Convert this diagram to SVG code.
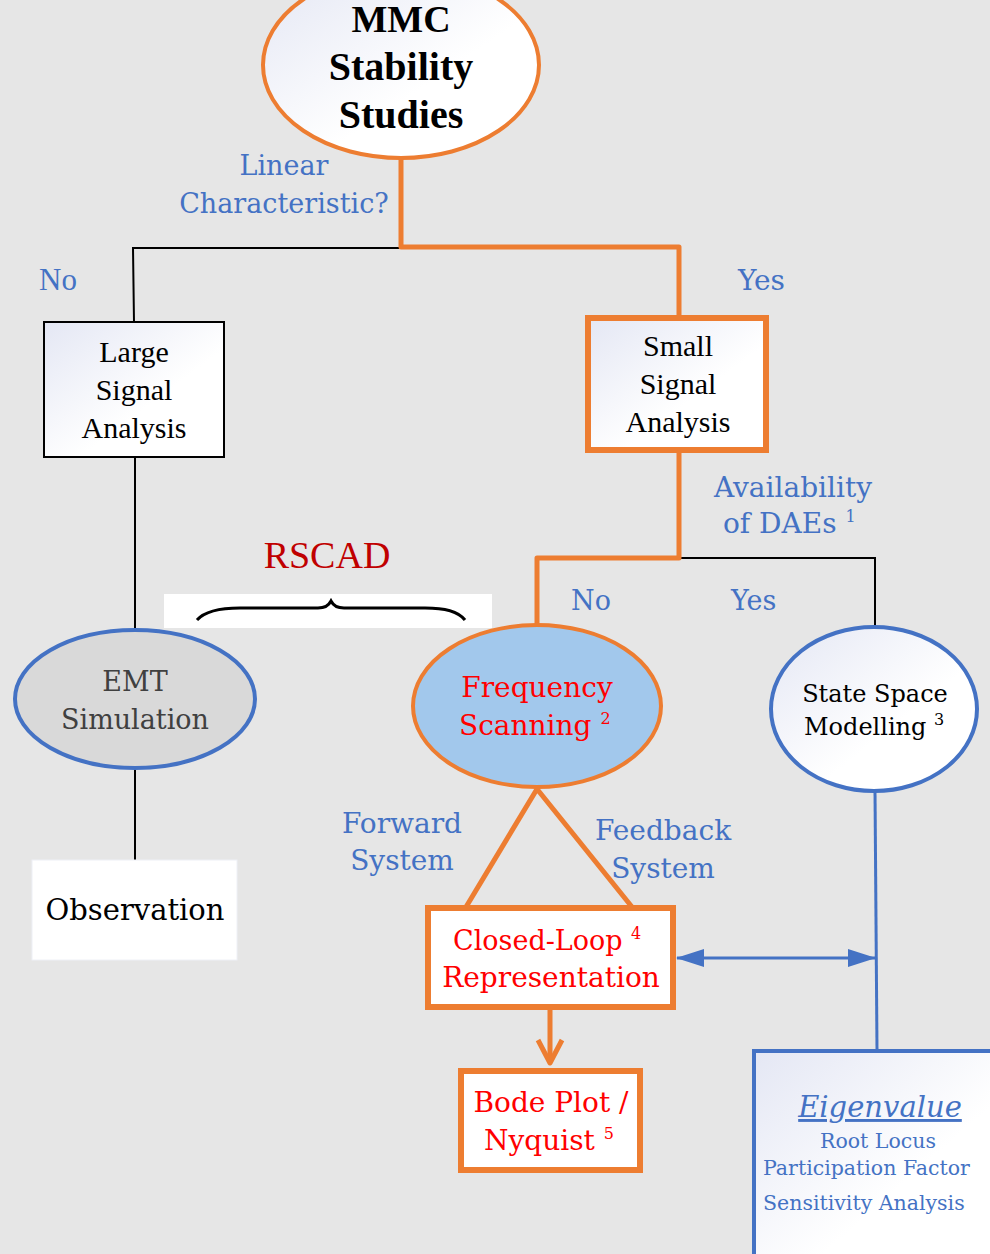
<svg xmlns="http://www.w3.org/2000/svg" width="990" height="1254" viewBox="0 0 990 1254">
<defs>
<linearGradient id="wg" x1="0" y1="0" x2="1" y2="1">
<stop offset="0" stop-color="#e4e7f4"/>
<stop offset="0.6" stop-color="#ffffff"/>
</linearGradient>
<marker id="ah" viewBox="0 0 28 18" refX="27" refY="9" markerWidth="28" markerHeight="18" orient="auto-start-reverse" markerUnits="userSpaceOnUse">
<path d="M0,0 L28,9 L0,18 z" fill="#4472c4"/>
</marker>
<style>
.tm{font-family:"Liberation Serif","Times New Roman",serif;}
.cs{font-family:"DejaVu Serif","Liberation Serif",serif;}
.bl{fill:#4472c4;}
.rd{fill:#ff0000;}
.or{fill:none;stroke:#ed7d31;stroke-width:5;stroke-linejoin:round;}
.bk{fill:none;stroke:#000;stroke-width:2;}
.bu{fill:none;stroke:#4472c4;stroke-width:3;}
.sup{font-size:16px;}
</style>
</defs>
<rect x="0" y="0" width="990" height="1254" fill="#e6e6e6"/>

<g id="connectors">
<polyline class="bk" points="401,248 133,248 134,322"/>
<polyline class="or" points="401,157 401,247 679,247 679,318"/>
<line class="bk" x1="135" y1="457" x2="135" y2="630"/>
<line class="bk" x1="135" y1="768" x2="135" y2="860"/>
<polyline class="bk" points="679,558 875,558 875,628"/>
<polyline class="or" points="679,452 679,558 537,558 537,626"/>
<polyline class="or" points="466,907 537,789 632,907"/>
<line class="or" x1="550" y1="1008" x2="550" y2="1062"/>
<polyline class="or" points="538,1040 550,1063 562,1040"/>
<line class="bu" x1="875" y1="791" x2="877" y2="1050"/>
<line class="bu" x1="677" y1="958" x2="875" y2="958" marker-start="url(#ah)" marker-end="url(#ah)"/>
</g>

<g id="labels">
<text class="cs bl" font-size="27" text-anchor="middle" x="284" y="175">Linear</text>
<text class="cs bl" font-size="27" text-anchor="middle" x="284" y="213">Characteristic?</text>
<text class="tm bl" font-size="31" x="39" y="290">No</text>
<text class="cs bl" font-size="28" x="738" y="290">Yes</text>
<text class="cs bl" font-size="28" text-anchor="middle" x="793" y="497">Availability</text>
<text class="cs bl" font-size="28" x="723" y="533">of DAEs <tspan class="sup" dy="-11">1</tspan></text>
<text class="cs bl" font-size="27" x="571" y="610">No</text>
<text class="cs bl" font-size="27" x="731" y="610">Yes</text>
<text class="cs bl" font-size="28" text-anchor="middle" x="402" y="833">Forward</text>
<text class="cs bl" font-size="28" text-anchor="middle" x="402" y="870">System</text>
<text class="cs bl" font-size="28" text-anchor="middle" x="663" y="840">Feedback</text>
<text class="cs bl" font-size="28" text-anchor="middle" x="663" y="878">System</text>
</g>

<g id="rscad">
<text class="tm" font-size="38" fill="#c00000" text-anchor="middle" x="327" y="568">RSCAD</text>
<rect x="164" y="594" width="328" height="34" fill="#ffffff"/>
<path d="M197,620 C205,611 220,608 240,608 L318,608 C326,608 329,605 331,601 C333,605 336,608 344,608 L425,608 C445,608 458,611 465,620" fill="none" stroke="#000" stroke-width="3"/>
</g>

<g id="mmc">
<ellipse cx="401" cy="65" rx="138" ry="93" fill="url(#wg)" stroke="#ed7d31" stroke-width="4"/>
<text class="tm" font-size="38" font-weight="bold" text-anchor="middle" x="401" y="32">MMC</text>
<text class="tm" font-size="40" font-weight="bold" text-anchor="middle" x="401" y="80">Stability</text>
<text class="tm" font-size="40" font-weight="bold" text-anchor="middle" x="401" y="128">Studies</text>
</g>

<g id="large">
<rect x="44" y="322" width="180" height="135" fill="url(#wg)" stroke="#000" stroke-width="2"/>
<text class="tm" font-size="30" text-anchor="middle" x="134" y="362">Large</text>
<text class="tm" font-size="30" text-anchor="middle" x="134" y="400">Signal</text>
<text class="tm" font-size="30" text-anchor="middle" x="134" y="438">Analysis</text>
</g>

<g id="small">
<rect x="588" y="318" width="178" height="132" fill="url(#wg)" stroke="#ed7d31" stroke-width="6"/>
<text class="tm" font-size="30" text-anchor="middle" x="678" y="356">Small</text>
<text class="tm" font-size="30" text-anchor="middle" x="678" y="394">Signal</text>
<text class="tm" font-size="30" text-anchor="middle" x="678" y="432">Analysis</text>
</g>

<g id="emt">
<ellipse cx="135" cy="699" rx="120" ry="69" fill="#d9d9d9" stroke="#4472c4" stroke-width="4"/>
<text class="cs" font-size="27" fill="#404040" text-anchor="middle" x="135" y="691">EMT</text>
<text class="cs" font-size="27" fill="#404040" text-anchor="middle" x="135" y="729">Simulation</text>
</g>

<g id="observation">
<rect x="32" y="860" width="205" height="100" fill="#ffffff" stroke="#eef0f6" stroke-width="1"/>
<text class="cs" font-size="29" fill="#000" text-anchor="middle" x="135" y="920">Observation</text>
</g>

<g id="freq">
<ellipse cx="537" cy="706" rx="124" ry="81" fill="#a2c8ec" stroke="#ed7d31" stroke-width="4"/>
<text class="cs rd" font-size="28" text-anchor="middle" x="537" y="697">Frequency</text>
<text class="cs rd" font-size="28" x="459" y="735">Scanning <tspan class="sup" dy="-11">2</tspan></text>
</g>

<g id="statespace">
<ellipse cx="874" cy="709" rx="103" ry="82" fill="url(#wg)" stroke="#4472c4" stroke-width="4"/>
<text class="cs" font-size="24" fill="#000" text-anchor="middle" x="875" y="702">State Space</text>
<text class="cs" font-size="24" fill="#000" x="804" y="735">Modelling <tspan class="sup" dy="-10">3</tspan></text>
</g>

<g id="closedloop">
<rect x="428" y="908" width="245" height="99" fill="#ffffff" stroke="#ed7d31" stroke-width="6"/>
<text class="cs rd" font-size="27" x="453" y="950">Closed-Loop <tspan class="sup" dy="-11">4</tspan></text>
<text class="cs rd" font-size="28" text-anchor="middle" x="551" y="987">Representation</text>
</g>

<g id="bode">
<rect x="461" y="1071" width="179" height="99" fill="#ffffff" stroke="#ed7d31" stroke-width="6"/>
<text class="cs rd" font-size="28" text-anchor="middle" x="551" y="1112">Bode Plot /</text>
<text class="cs rd" font-size="28" x="484" y="1150">Nyquist <tspan class="sup" dy="-11">5</tspan></text>
</g>

<g id="eigen">
<rect x="754" y="1051" width="250" height="220" fill="url(#wg)" stroke="#4472c4" stroke-width="4"/>
<text class="cs bl" font-size="29" font-style="italic" text-decoration="underline" text-anchor="middle" x="880" y="1117">Eigenvalue</text>
<text class="cs bl" font-size="20.5" text-anchor="middle" x="878" y="1148">Root Locus</text>
<text class="cs bl" font-size="20.5" x="763" y="1175">Participation Factor</text>
<text class="cs bl" font-size="20.5" x="763" y="1210">Sensitivity Analysis</text>
</g>
</svg>
